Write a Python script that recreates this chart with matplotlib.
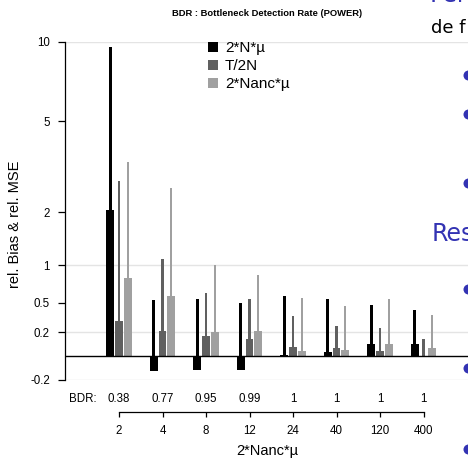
import numpy as np
import matplotlib
matplotlib.use('Agg')
import matplotlib.pyplot as plt
from matplotlib.patches import Patch
from matplotlib.lines import Line2D

# x groups: 2*Nanc*mu values and bottleneck detection rate
nanc_labels = ['2', '4', '8', '12', '24', '40', '120', '400']
bdr_labels = ['0.38', '0.77', '0.95', '0.99', '1', '1', '1', '1']

# relative bias (wide bars) and relative MSE (thin bars) per parameter
bias_n = [2.05, -0.12, -0.115, -0.11, 0.01, 0.03, 0.095, 0.095]
mse_n = [9.6, 0.53, 0.55, 0.50, 0.58, 0.55, 0.48, 0.42]
bias_t = [0.31, 0.21, 0.17, 0.14, 0.07, 0.06, 0.04, 0.0]
mse_t = [2.8, 1.1, 0.62, 0.55, 0.36, 0.26, 0.24, 0.135]
bias_a = [0.81, 0.58, 0.20, 0.21, 0.04, 0.048, 0.10, 0.064]
mse_a = [3.4, 2.6, 1.0, 0.85, 0.56, 0.47, 0.54, 0.37]

series_names = ['2*N*\u00b5', 'T/2N', '2*Nanc*\u00b5']
series_colors = ['#000000', '#606060', '#a0a0a0']

y_ticks = [-0.2, 0.2, 0.5, 1, 2, 5, 10]
y_grid = [-0.2, 0.2, 1, 10]

plt.rcParams['font.family'] = ['Liberation Sans', 'DejaVu Sans']


def fwd(v):
    v = np.asarray(v, dtype=float)
    return np.sign(v) * np.log10(1 + np.abs(v))


def inv(y):
    y = np.asarray(y, dtype=float)
    return np.sign(y) * (10 ** np.abs(y) - 1)


W, H = 468, 459
fig = plt.figure(figsize=(W / 100, H / 100), dpi=100)
fig.patch.set_facecolor('white')

ax_left, ax_right = 65, 468
ax_top, ax_bot = 41.7, 380
ax = fig.add_axes([ax_left / W, 1 - ax_bot / H, (ax_right - ax_left) / W, (ax_bot - ax_top) / H])
ax.set_yscale('function', functions=(fwd, inv))

x = np.arange(len(nanc_labels))
offsets = [-0.2, 0.0, 0.2]
thin_w = [0.065, 0.05, 0.05]
for k, (b, m) in enumerate([(bias_n, mse_n), (bias_t, mse_t), (bias_a, mse_a)]):
    ax.bar(x + offsets[k], m, width=thin_w[k], color=series_colors[k], zorder=2)
    ax.bar(x + offsets[k], b, width=0.18, color=series_colors[k], zorder=3)

for g in y_grid:
    ax.axhline(g, color='#e4e4e4', lw=1, zorder=1)
ax.axhline(0, color='black', lw=1, zorder=4)

ax.set_xlim((ax_left - 119) / 43.5, (ax_right - 119) / 43.5)
ax.set_ylim(-0.2, 10)
ax.set_yticks(y_ticks)
ax.set_yticklabels([('%g' % t) for t in y_ticks])
ax.yaxis.set_minor_locator(matplotlib.ticker.NullLocator())

for s in ['top', 'right']:
    ax.spines[s].set_visible(False)
ax.spines['left'].set_linewidth(0.9)
ax.spines['bottom'].set_position(('outward', 22.8))
ax.spines['bottom'].set_bounds(0, 7)
ax.spines['bottom'].set_linewidth(0.9)

ax.set_xticks(x)
ax.set_xticklabels(nanc_labels)
ax.tick_params(axis='y', direction='out', length=5.3, width=0.9, pad=5.5, labelsize=8.3)
ax.tick_params(axis='x', direction='out', length=3.6, width=0.9, pad=6, labelsize=8.3)
ax.set_xlabel('2*Nanc*\u00b5', fontsize=10.5)
ax.xaxis.set_label_coords((267 - ax_left) / (ax_right - ax_left), (ax_bot - 444) / (ax_bot - ax_top))

# detection rate row under the bars
trans = matplotlib.transforms.blended_transform_factory(ax.transData, ax.transAxes)
ax.text((83 - 119) / 43.5, -0.056, 'BDR:', transform=trans, ha='center', va='center', fontsize=8.3)
for xi, lab in zip(x, bdr_labels):
    ax.text(xi, -0.056, lab, transform=trans, ha='center', va='center', fontsize=8.3)

fig.text(15 / W, 1 - 224 / H, 'rel. Bias & rel. MSE', rotation=90, ha='center', va='center', fontsize=10.5)
fig.text(267 / W, 1 - 13 / H, 'BDR : Bottleneck Detection Rate (POWER)', ha='center', va='center',
         fontsize=6.75, fontweight='bold')

handles = [Patch(facecolor=c, edgecolor='none') for c in series_colors]
ax.legend(handles, series_names, loc='upper left', bbox_to_anchor=(208 / W, 1 - 41 / H),
          bbox_transform=fig.transFigure, frameon=False, fontsize=11, handlelength=0.65,
          handleheight=0.65, handletextpad=0.46, labelspacing=0.27, borderpad=0, borderaxespad=0)

# neighbouring slide content
blue = '#3333b3'
fig.text(430 / W, 1 - 2 / H, 'Per', color=blue, fontsize=17, family='DejaVu Sans', va='baseline')
fig.text(431 / W, 1 - 33.3 / H, 'de f', color='black', fontsize=13, family='DejaVu Sans', va='baseline')
fig.text(432 / W, 1 - 241 / H, 'Res', color=blue, fontsize=17, family='DejaVu Sans', va='baseline')
for by in [75, 114, 183, 289, 368, 449]:
    fig.add_artist(Line2D([468 / W], [1 - by / H], marker='o', markersize=7.2, color=blue,
                          markeredgewidth=0, transform=fig.transFigure))

fig.savefig('out.png', dpi=100)
